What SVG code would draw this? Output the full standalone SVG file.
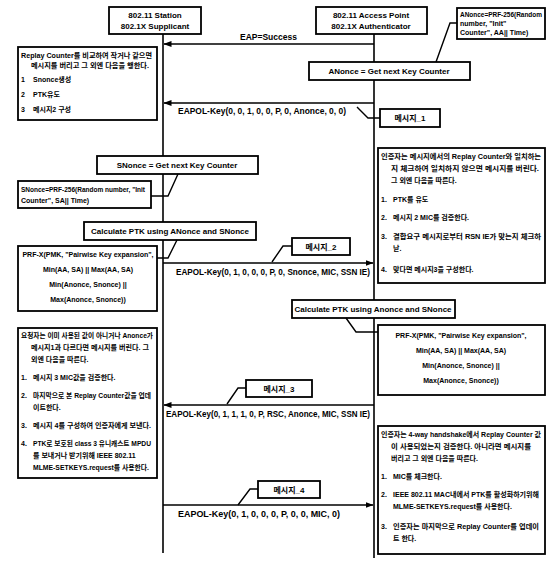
<svg xmlns="http://www.w3.org/2000/svg" width="550" height="562" viewBox="0 0 550 562">
<defs>
<marker id="ah" markerWidth="8" markerHeight="6" refX="7.5" refY="3" orient="auto" markerUnits="userSpaceOnUse">
<path d="M0,0 L8,3 L0,6 Z" fill="#000"/>
</marker>
<style>
.box{fill:#fff;stroke:#000;stroke-width:1.8}
.ln{stroke:#000;stroke-width:1.4;fill:none}
.life{stroke:#000;stroke-width:1.6;fill:none}
.msg{stroke:#000;stroke-width:1.6;fill:none;marker-end:url(#ah)}
.t{font-family:"Liberation Sans","Noto Sans CJK KR",sans-serif;font-size:8px;font-weight:bold;fill:#000}
.c{text-anchor:middle}
.k{font-family:"Liberation Sans","Noto Sans CJK KR",sans-serif;font-size:7px;font-weight:bold;fill:#000}
.lb{font-family:"Liberation Sans",sans-serif;font-size:8.5px;font-weight:bold;fill:#000}
</style>
</defs>
<rect width="550" height="562" fill="#fff"/>

<g id="lifelines">
<line class="life" x1="163" y1="34" x2="163" y2="553"/>
<line class="life" x1="374" y1="34" x2="374" y2="558"/>
</g>

<g id="station">
<rect class="box" x="109" y="7" width="92" height="27"/>
<text class="t c" x="155" y="18">802.11 Station</text>
<text class="t c" x="155" y="29">802.1X Supplicant</text>
</g>

<g id="ap">
<rect class="box" x="316" y="7" width="111" height="27"/>
<text class="t c" x="371" y="18">802.11 Access Point</text>
<text class="t c" x="371" y="29">802.1X Authenticator</text>
</g>

<g id="anonce-note">
<rect class="box" x="457" y="8" width="88" height="31"/>
<text class="k" x="460" y="17" textLength="82" lengthAdjust="spacingAndGlyphs">ANonce=PRF-256(Random</text>
<text class="k" x="460" y="26">number, "Init"</text>
<text class="k" x="460" y="35">Counter", AA|| Time)</text>
</g>

<g id="anonce-get">
<rect class="box" x="309" y="62" width="161" height="18"/>
<text class="t c" x="389" y="74">ANonce = Get next Key Counter</text>
</g>

<g id="sup-box1">
<rect class="box" x="18" y="47" width="139" height="73"/>
<text class="k" x="21" y="58" textLength="131" lengthAdjust="spacingAndGlyphs">Replay Counter를 비교하여 작거나 같으면</text>
<text class="k" x="31" y="68" textLength="118" lengthAdjust="spacingAndGlyphs">메시지를 버리고 그 외엔 다음을 행한다.</text>
<text class="k" x="21" y="82">1</text><text class="k" x="33" y="82">Snonce생성</text>
<text class="k" x="21" y="97">2</text><text class="k" x="33" y="97">PTK유도</text>
<text class="k" x="21" y="112">3</text><text class="k" x="33" y="112">메시지2 구성</text>
</g>

<g id="msg1-label">
<rect class="box" x="380" y="109" width="60" height="18"/>
<text class="t c" x="410" y="121">메시지_1</text>
</g>

<g id="snonce-get">
<rect class="box" x="97" y="156" width="161" height="18"/>
<text class="t c" x="177" y="168">SNonce = Get next Key Counter</text>
</g>

<g id="snonce-note">
<rect class="box" x="18" y="181" width="133" height="27"/>
<text class="k" x="21" y="192" textLength="124" lengthAdjust="spacingAndGlyphs">SNonce=PRF-256(Random number, "Init</text>
<text class="k" x="21" y="203">Counter", SA|| Time)</text>
</g>

<g id="auth-box1">
<rect class="box" x="378" y="148" width="167" height="135"/>
<text class="k" x="381" y="159" textLength="160" lengthAdjust="spacingAndGlyphs">인증자는 메시지에서의 Replay Counter와 일치하는</text>
<text class="k" x="391" y="171" textLength="148" lengthAdjust="spacingAndGlyphs">지 체크하여 일치하지 않으면 메시지를 버린다.</text>
<text class="k" x="391" y="183">그 외엔 다음을 따른다.</text>
<text class="k" x="381" y="202">1.</text><text class="k" x="393" y="202">PTK를 유도</text>
<text class="k" x="381" y="220">2.</text><text class="k" x="393" y="220">메시지 2 MIC를 검증한다.</text>
<text class="k" x="381" y="239">3.</text><text class="k" x="393" y="239" textLength="148" lengthAdjust="spacingAndGlyphs">결합요구 메시지로부터 RSN IE가 맞는지 체크하</text>
<text class="k" x="393" y="251">낟.</text>
<text class="k" x="381" y="272">4.</text><text class="k" x="393" y="272">맞다면 메시지3을 구성한다.</text>
</g>

<g id="sup-calc">
<rect class="box" x="84" y="222" width="172" height="18"/>
<text class="t c" x="170" y="234">Calculate PTK using ANonce and SNonce</text>
</g>

<g id="sup-prf">
<rect class="box" x="18" y="246" width="139" height="65"/>
<text class="k c" x="88" y="257">PRF-X(PMK, "Pairwise Key expansion",</text>
<text class="k c" x="88" y="272">Min(AA, SA) || Max(AA, SA)</text>
<text class="k c" x="88" y="287">Min(Anonce, Snonce) ||</text>
<text class="k c" x="88" y="302">Max(Anonce, Snonce))</text>
</g>

<g id="msg2-label">
<rect class="box" x="292" y="238" width="58" height="17"/>
<text class="t c" x="321" y="250">메시지_2</text>
</g>

<g id="auth-calc">
<rect class="box" x="292" y="300" width="163" height="18"/>
<text class="t c" x="373" y="312">Calculate PTK using Anonce and SNonce</text>
</g>

<g id="auth-prf">
<rect class="box" x="378" y="325" width="167" height="70"/>
<text class="k c" x="461" y="338">PRF-X(PMK, "Pairwise Key expansion",</text>
<text class="k c" x="461" y="353">Min(AA, SA) || Max(AA, SA)</text>
<text class="k c" x="461" y="368">Min(Anonce, Snonce) ||</text>
<text class="k c" x="461" y="383">Max(Anonce, Snonce))</text>
</g>

<g id="sup-box2">
<rect class="box" x="18" y="328" width="139" height="150"/>
<text class="k" x="21" y="338" textLength="132" lengthAdjust="spacingAndGlyphs">요청자는 이미 사용된 값이 아니거나 Anonce가</text>
<text class="k" x="31" y="350" textLength="118" lengthAdjust="spacingAndGlyphs">메시지1과 다르다면 메시지를 버린다. 그</text>
<text class="k" x="31" y="362">외엔 다음을 따른다.</text>
<text class="k" x="21" y="380">1.</text><text class="k" x="33" y="380">메시지 3 MIC값을 검증한다.</text>
<text class="k" x="21" y="398">2.</text><text class="k" x="33" y="398" textLength="118" lengthAdjust="spacingAndGlyphs">마지막으로 본 Replay Counter값을 업데</text>
<text class="k" x="33" y="410">이트한다.</text>
<text class="k" x="21" y="428">3.</text><text class="k" x="33" y="428" textLength="118" lengthAdjust="spacingAndGlyphs">메시지 4를 구성하여 인증자에게 보낸다.</text>
<text class="k" x="21" y="446">4.</text><text class="k" x="33" y="446" textLength="118" lengthAdjust="spacingAndGlyphs">PTK로 보호된 class 3 유니캐스트 MPDU</text>
<text class="k" x="33" y="458">를 보내거나 받기위해 IEEE 802.11</text>
<text class="k" x="33" y="470" textLength="116" lengthAdjust="spacingAndGlyphs">MLME-SETKEYS.request를 사용한다.</text>
</g>

<g id="msg3-label">
<rect class="box" x="246" y="380" width="66" height="17"/>
<text class="t c" x="279" y="392">메시지_3</text>
</g>

<g id="auth-box2">
<rect class="box" x="378" y="426" width="167" height="128"/>
<text class="k" x="381" y="437" textLength="160" lengthAdjust="spacingAndGlyphs">인증자는 4-way handshake에서 Replay Counter 값</text>
<text class="k" x="391" y="449" textLength="140" lengthAdjust="spacingAndGlyphs">이 사용되었는지 검증한다. 아니라면 메시지를</text>
<text class="k" x="391" y="461">버리고 그 외엔 다음을 따른다.</text>
<text class="k" x="381" y="479">1.</text><text class="k" x="393" y="479">MIC를 체크한다.</text>
<text class="k" x="381" y="497">2.</text><text class="k" x="393" y="497" textLength="146" lengthAdjust="spacingAndGlyphs">IEEE 802.11 MAC내에서 PTK를 활성화하기위해</text>
<text class="k" x="393" y="509">MLME-SETKEYS.request를 사용한다.</text>
<text class="k" x="381" y="529">3.</text><text class="k" x="393" y="529" textLength="146" lengthAdjust="spacingAndGlyphs">인증자는 마지막으로 Replay Counter를 업데이</text>
<text class="k" x="393" y="541">트 한다.</text>
</g>

<g id="msg4-label">
<rect class="box" x="258" y="481" width="62" height="17"/>
<text class="t c" x="289" y="493">메시지_4</text>
</g>

<g id="connectors">
<line class="msg" x1="374" y1="44" x2="164" y2="44"/>
<text class="lb" x="240" y="40">EAP=Success</text>

<line class="msg" x1="374" y1="103" x2="164" y2="103"/>
<text class="lb" x="178" y="114" textLength="168" lengthAdjust="spacingAndGlyphs">EAPOL-Key(0, 0, 1, 0, 0, P, 0, Anonce, 0, 0)</text>

<line class="msg" x1="163" y1="263" x2="373" y2="263"/>
<text class="lb" x="176" y="275" textLength="194" lengthAdjust="spacingAndGlyphs">EAPOL-Key(0, 1, 0, 0, 0, P, 0, Snonce, MIC, SSN IE)</text>

<line class="msg" x1="374" y1="405" x2="164" y2="405"/>
<text class="lb" x="166" y="417" textLength="204" lengthAdjust="spacingAndGlyphs">EAPOL-Key(0, 1, 1, 1, 0, P, RSC, Anonce, MIC, SSN IE)</text>

<line class="msg" x1="163" y1="505" x2="373" y2="505"/>
<text class="lb" x="178" y="517" textLength="162" lengthAdjust="spacingAndGlyphs">EAPOL-Key(0, 1, 0, 0, 0, P, 0, 0, MIC, 0)</text>

<polyline class="ln" points="436,62 450,23 457,23"/>
<polyline class="ln" points="357,107 368,118 380,118"/>
<polyline class="ln" points="151,196 168,196 178,174"/>
<polyline class="ln" points="157,258 168,258 177,240"/>
<polyline class="ln" points="272,262 283,246 292,246"/>
<polyline class="ln" points="346,318 356,332 378,332"/>
<polyline class="ln" points="227,404 238,388 246,388"/>
<polyline class="ln" points="238,505 250,489 258,489"/>
</g>
</svg>
